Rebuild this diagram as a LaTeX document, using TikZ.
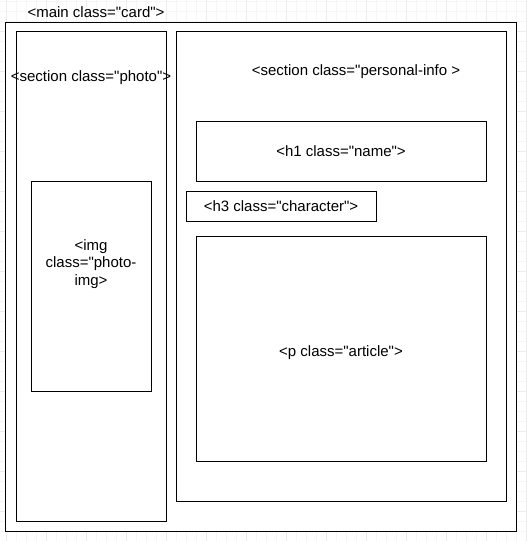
\documentclass[tikz,border=0pt]{standalone}
\usepackage{fontspec}
\setmainfont{Liberation Sans}[Ligatures=TeXOff]
\usepackage{tikz}
\usetikzlibrary{positioning}
\tikzset{
    box/.style={
        draw,
        rectangle,
        fill=white,
        line width=1pt,
        inner sep=0pt,
        align=center,
        text height=11.4pt,
        text depth=0pt,
        font=\fontsize{15pt}{17.5pt}\selectfont
    },
    tag/.style={
        inner sep=0pt,
        align=center,
        font=\fontsize{15pt}{17.5pt}\selectfont
    }
}
\definecolor{gridminor}{RGB}{246,246,246}
\definecolor{gridmajor}{RGB}{236,236,236}

\begin{document}
\begin{tikzpicture}[x=1pt, y=-1pt]
  \useasboundingbox (0,0) rectangle (527,541);
  % Background grid
  \draw[gridminor, line width=0.6pt, xshift=6.7pt, yshift=-1.7pt] (-10,-10) grid[step=10pt] (530,550);
  \draw[gridmajor, line width=0.8pt, xshift=6.7pt, yshift=-31.7pt] (-40,-40) grid[step=40pt] (530,550);

  % Outer card
  \node[box, minimum width=511pt, minimum height=509pt] (card) at (260.5,276.5) {};
  \node[tag, anchor=base] (cardlbl) at (96,17) {<main class="card">};

  % Photo section
  \node[box, minimum width=150pt, minimum height=490pt] (photo) at (91,276) {};
  \node[box, minimum width=120pt, minimum height=210pt] (photoimg) at (91,286) {};
  \node[tag, anchor=base] (photolbl) at (91,81.7) {<section class="photo">};
  \node[tag] (imglbl) at (91,264) {<img\\class="photo-\\img>};

  % Personal info section
  \node[box, minimum width=330pt, minimum height=470pt] (info) at (341,266) {};
  \node[tag, anchor=base] (infolbl) at (356,75) {<section class="personal-info >};
  \node[box, minimum width=290pt, minimum height=60pt] (name) at (341,151) {<h1 class="name">};
  \node[box, minimum width=190pt, minimum height=30pt] (character) at (281,206) {<h3 class="character">};
  \node[box, minimum width=290pt, minimum height=225pt, text height=16.4pt] (article) at (341,348.5) {<p class="article">};
\end{tikzpicture}
\end{document}
